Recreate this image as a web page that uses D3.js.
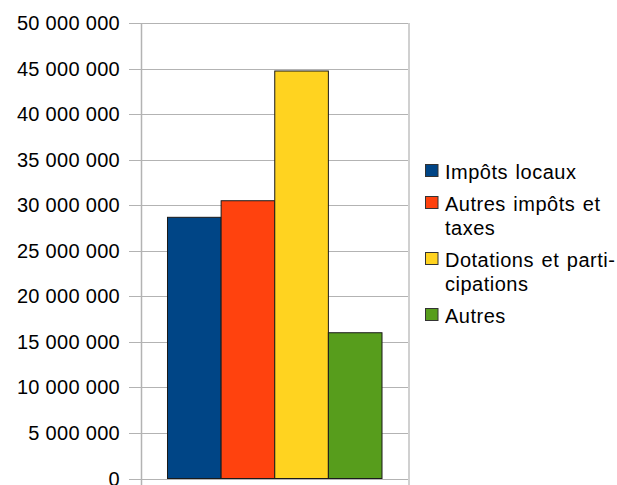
<!DOCTYPE html>
<html>
<head>
<meta charset="utf-8">
<script src="https://cdn.jsdelivr.net/npm/d3@7"></script>
<style>
  html, body { margin: 0; padding: 0; background: #fff; }
  svg { display: block; font-family: "Liberation Sans", Arial, sans-serif; }
</style>
</head>
<body>
<svg id="chart" width="617" height="485"></svg>
<script>
// Recettes de fonctionnement par nature
const categories = [""];
const series = ["Impôts locaux", "Autres impôts et taxes", "Dotations et participations", "Autres"];
const values = [28670000, 30490000, 44730000, 16000000];
const colors = ["#004586", "#ff420e", "#ffd320", "#579d1c"];
const legendLines = [["Impôts locaux"], ["Autres impôts et", "taxes"], ["Dotations et parti-", "cipations"], ["Autres"]];
const yTicks = [0, 5e6, 10e6, 15e6, 20e6, 25e6, 30e6, 35e6, 40e6, 45e6, 50e6];

const svg = d3.select("#chart");
const plot = { left: 141, right: 408.5, top: 23, bottom: 478.5 };

const fr = d3.formatLocale({ decimal: ",", thousands: " ", grouping: [3], currency: ["", " €"] });
const fmt = fr.format(",d");

const y = d3.scaleLinear().domain([0, 50e6]).range([plot.bottom, plot.top]);
const x0 = d3.scaleBand().domain(categories).range([plot.left, plot.right])
  .paddingInner(0).paddingOuter(0.1235);
const x1 = d3.scaleBand().domain(series).range([0, x0.bandwidth()]).padding(0);

const grid = "#b3b3b3";

// horizontal grid lines with outer ticks
svg.append("g").selectAll("line").data(yTicks).join("line")
  .attr("x1", plot.left - 12).attr("x2", plot.right + 0.5)
  .attr("y1", d => Math.round(y(d)) + 0.5).attr("y2", d => Math.round(y(d)) + 0.5)
  .attr("stroke", grid).attr("stroke-width", 1);

// frame verticals (extend below baseline as category ticks)
svg.append("line")
  .attr("x1", plot.left + 0.5).attr("x2", plot.left + 0.5)
  .attr("y1", plot.top).attr("y2", 485)
  .attr("stroke", grid).attr("stroke-width", 1.5);
svg.append("line")
  .attr("x1", plot.right + 0.5).attr("x2", plot.right + 0.5)
  .attr("y1", plot.top).attr("y2", 485)
  .attr("stroke", "#d0d0d0").attr("stroke-width", 2);

// y labels (the lowest one runs past the bottom edge)
svg.append("g").selectAll("text").data(yTicks).join("text")
  .attr("x", 120).attr("y", d => y(d))
  .attr("dy", "0.35em")
  .attr("text-anchor", "end")
  .attr("font-size", 20).attr("fill", "#000")
  .attr("letter-spacing", 0.3)
  .text(d => fmt(d));

// bars
svg.append("g").selectAll("rect").data(series).join("rect")
  .attr("x", d => x0(categories[0]) + x1(d))
  .attr("y", (d, i) => y(values[i]))
  .attr("width", x1.bandwidth())
  .attr("height", (d, i) => y(0) - y(values[i]))
  .attr("fill", (d, i) => colors[i])
  .attr("stroke", "#1a1a1a").attr("stroke-width", 1);

// legend
const lg = svg.append("g");
let baseY = 179;
legendLines.forEach((lines, i) => {
  lg.append("rect")
    .attr("x", 425.5).attr("y", baseY - 14.5)
    .attr("width", 12.5).attr("height", 12)
    .attr("fill", colors[i]).attr("stroke", "#333").attr("stroke-width", 1);
  const t = lg.append("text").attr("x", 445).attr("y", baseY)
    .attr("font-size", 20).attr("fill", "#000")
    .attr("letter-spacing", 0.5).attr("word-spacing", 1.5);
  lines.forEach((ln, j) => {
    t.append("tspan").attr("x", 445).attr("y", baseY + j * 24).text(ln);
  });
  baseY += lines.length * 24 + 8;
});
</script>
</body>
</html>
